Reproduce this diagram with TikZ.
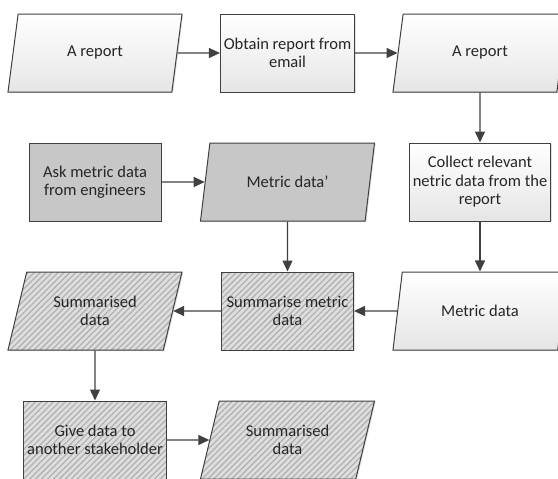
\documentclass[tikz,border=0pt]{standalone}
\usepackage{fontspec}
\setmainfont{Carlito}
\usetikzlibrary{shapes.geometric,positioning,arrows.meta,patterns.meta,shadows}
\definecolor{linegray}{HTML}{404040}
\tikzset{
    basenode/.style={
        draw=linegray,line width=1pt,align=center,text=black!85,
        font=\fontsize{16.5}{18.5}\selectfont,
        drop shadow={shadow xshift=1.2pt,shadow yshift=-1.2pt,opacity=.25}
    },
    procnode/.style={
        basenode,rectangle,minimum width=132pt,minimum height=78pt
    },
    datanode/.style={
        basenode,trapezium,trapezium left angle=63,trapezium right angle=117,
        trapezium stretches body,minimum width=174pt,minimum height=78pt
    },
    plainfill/.style={top color=white,bottom color=black!10},
    darkfill/.style={fill=black!22},
    hatchfill/.style={
        preaction={fill=black!13},
        preaction={pattern={Lines[angle=45,distance=4.2pt,line width=1.3pt]},pattern color=black!30}
    },
    flow/.style={->,draw=linegray,line width=1.3pt}
}

\begin{document}
\begin{tikzpicture}[>={Triangle[length=11pt,width=10pt]}]
\useasboundingbox (0,0) rectangle (558pt,-479pt);
\node[datanode,plainfill] (rep1) at (95pt,-53pt) {A report};
\node[procnode,plainfill,on grid,right=192.5pt of rep1] (obtain) {Obtain report from\\email};
\node[datanode,plainfill,on grid,right=192.5pt of obtain] (rep2) {A report};
\node[procnode,plainfill,on grid,below=129pt of rep2] (collect) {Collect relevant\\netric data from the\\report};
\node[datanode,darkfill,on grid,left=192.5pt of collect] (askdata) {Metric data'};
\node[procnode,darkfill,on grid,left=192.5pt of askdata] (ask) {Ask metric data\\from engineers};
\node[datanode,plainfill,on grid,below=129pt of collect] (metric) {Metric data};
\node[procnode,hatchfill,on grid,left=192.5pt of metric] (summ) {Summarise metric\\data};
\node[datanode,hatchfill,on grid,left=192.5pt of summ] (sumdata) {Summarised\\data};
\node[procnode,hatchfill,on grid,below=129pt of sumdata] (give) {Give data to\\another stakeholder};
\node[datanode,hatchfill,on grid,right=192.5pt of give] (sumdata2) {Summarised\\data};

\draw[flow] (rep1) -- (obtain);
\draw[flow] (obtain) -- (rep2);
\draw[flow] (rep2) -- (collect);
\draw[flow] (collect) -- (metric);
\draw[flow] (ask) -- (askdata);
\draw[flow] (askdata) -- (summ);
\draw[flow] (metric) -- (summ);
\draw[flow] (summ) -- (sumdata);
\draw[flow] (sumdata) -- (give);
\draw[flow] (give) -- (sumdata2);
\end{tikzpicture}
\end{document}
